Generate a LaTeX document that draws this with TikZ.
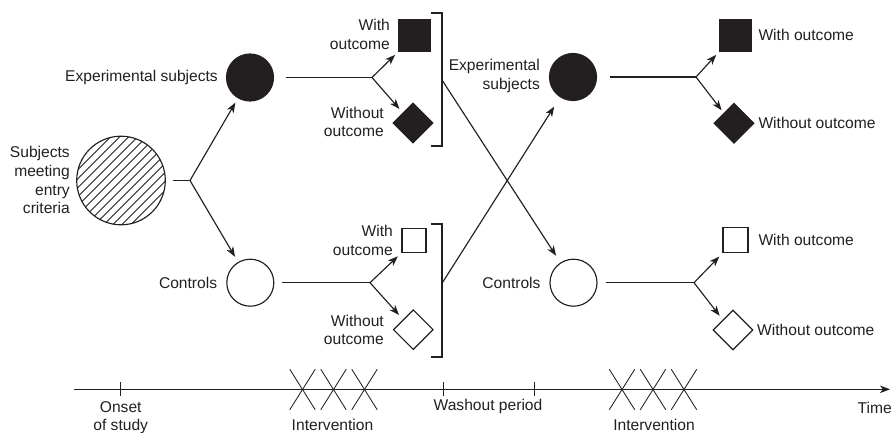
\documentclass[tikz,border=0pt]{standalone}
\usepackage{fontspec}
\setmainfont{Liberation Sans}
\usetikzlibrary{shapes.geometric,arrows.meta}
\definecolor{ink}{HTML}{231F20}
\begin{document}
\begin{tikzpicture}[x=1pt,y=-1pt,
  ln/.style={draw=ink,line width=1.15pt},
  arr/.style={ln,-{Stealth[length=10pt,width=7.5pt,inset=2.8pt]}},
  lbl/.style={text=ink,font=\fontsize{15.6}{18.7}\selectfont,inner sep=0pt},
  disc/.style={circle,minimum size=47pt,inner sep=0pt,ln,fill=ink},
  ring/.style={circle,minimum size=47pt,inner sep=0pt,ln,fill=white},
  fsq/.style={rectangle,inner sep=0pt,ln,fill=ink,minimum size=#1},
  osq/.style={rectangle,inner sep=0pt,ln,fill=white,minimum size=#1},
  fdm/.style={diamond,aspect=1,inner sep=0pt,ln,fill=ink,minimum width=#1,minimum height=#1},
  odm/.style={diamond,aspect=1,inner sep=0pt,ln,fill=white,minimum width=#1,minimum height=#1},
  thin/.style={draw=ink,line width=0.85pt}
]
\useasboundingbox (0,0) rectangle (893,433);

% hatched source circle
\begin{scope}
  \clip (121,180.5) circle[radius=44.3pt];
  \foreach \c in {-126,-117,...,126}
    \draw[ink,line width=0.9pt] (121+\c-50,180.5+50) -- (121+\c+50,180.5-50);
\end{scope}
\node[circle,minimum size=88.6pt,inner sep=0pt,ln] (subj) at (121,180.5) {};
\node[lbl,align=right,anchor=east] (subjl) at (70,180.3) {Subjects\\meeting\\entry\\criteria};

% first column
\coordinate (fork0) at (190,180.5);
\node[disc] (exp1) at (250,77.5) {};
\node[ring] (ctl1) at (250.3,282.7) {};
\node[lbl,anchor=base east] (exp1l) at (218,82) {Experimental subjects};
\node[lbl,anchor=base east] (ctl1l) at (217.3,288) {Controls};
\draw[ln,shorten <=7pt] (subj) -- (fork0);
\draw[arr,shorten >=5pt] (fork0) -- (exp1);
\draw[arr,shorten >=6pt] (fork0) -- (ctl1);

% outcomes of first period
\coordinate (fork1) at (372,77.5);
\coordinate (fork2) at (370,282.7);
\node[fsq=32pt] (sq1) at (414.5,35.5) {};
\node[fdm=40pt] (dm1) at (413,123) {};
\node[osq=24pt] (sq2) at (414,240.3) {};
\node[odm=40pt] (dm2) at (413.3,329.7) {};
\node[lbl,align=right,anchor=east] (sq1l) at (390,34.5) {With\\outcome};
\node[lbl,align=right,anchor=east] (dm1l) at (384,122) {Without\\outcome};
\node[lbl,align=right,anchor=east] (sq2l) at (393,240.4) {With\\outcome};
\node[lbl,align=right,anchor=east] (dm2l) at (384,330) {Without\\outcome};
\draw[ln,shorten <=12pt] (exp1) -- (fork1);
\draw[ln,shorten <=7.5pt] (ctl1) -- (fork2);
\draw[arr,shorten >=4pt] (fork1) -- (sq1.south west);
\draw[arr,shorten >=5pt] (fork1) -- (dm1.north west);
\draw[arr,shorten >=5pt] (fork2) -- (sq2.south west);
\draw[arr,shorten >=6pt] (fork2) -- (dm2.north west);

% brackets
\draw[ln] (431,13) -- (442,13) -- (442,146) -- (431,146);
\draw[ln] (431,224) -- (442,224) -- (442,357) -- (431,357);
\coordinate (b1) at (442,80);
\coordinate (b2) at (442,283.3);

% second column
\node[disc] (exp2) at (573,77) {};
\node[ring] (ctl2) at (573.5,282.7) {};
\node[lbl,align=right,anchor=east] (exp2l) at (540,76) {Experimental\\subjects};
\node[lbl,anchor=base east] (ctl2l) at (540.7,288) {Controls};
\draw[arr,shorten >=8pt] (b1) -- (ctl2);
\draw[arr,shorten >=11pt] (b2) -- (exp2);

% outcomes of second period
\coordinate (fork3) at (696,77);
\coordinate (fork4) at (694,282.7);
\node[fsq=32pt] (sq3) at (735.5,35.3) {};
\node[fdm=40pt] (dm3) at (734,123.3) {};
\node[osq=25pt] (sq4) at (735.5,240.3) {};
\node[odm=40pt] (dm4) at (733,330) {};
\node[lbl,anchor=west] (sq3l) at (758.3,35) {With outcome};
\node[lbl,anchor=west] (dm3l) at (758.3,123) {Without outcome};
\node[lbl,anchor=west] (sq4l) at (758.3,240) {With outcome};
\node[lbl,anchor=west] (dm4l) at (757,330) {Without outcome};
\draw[ln,shorten <=13pt] (exp2) -- (fork3);
\draw[ln,shorten <=8pt] (ctl2) -- (fork4);
\draw[arr,shorten >=4pt] (fork3) -- (sq3.south west);
\draw[arr,shorten >=3.5pt] (fork3) -- (dm3.north west);
\draw[arr,shorten >=4.5pt] (fork4) -- (sq4.south west);
\draw[arr,shorten >=5pt] (fork4) -- (dm4.north west);

% time axis
\coordinate (ax0) at (74.3,389.3);
\coordinate (ax1) at (890,389.3);
\draw[arr,line width=1pt] (ax0) -- (ax1);
\foreach \x in {120,443,534}
  \draw[thin] (\x,382) -- (\x,396);
\foreach \x in {302.5,333.5,364.5,622,653,684}{
  \draw[thin] (\x-12.7,369.3) -- (\x+12.7,409.7);
  \draw[thin] (\x+12.7,369.3) -- (\x-12.7,409.7);
}
\node[lbl,align=center,anchor=north] (onset) at (120.7,401) {Onset\\of study};
\node[lbl,anchor=base] (wash) at (488,410) {Washout period};
\node[lbl,anchor=base] (int1) at (332.5,430.5) {Intervention};
\node[lbl,anchor=base] (int2) at (654,430.5) {Intervention};
\node[lbl,anchor=base west] (time) at (857.5,413) {Time};
\end{tikzpicture}
\end{document}
